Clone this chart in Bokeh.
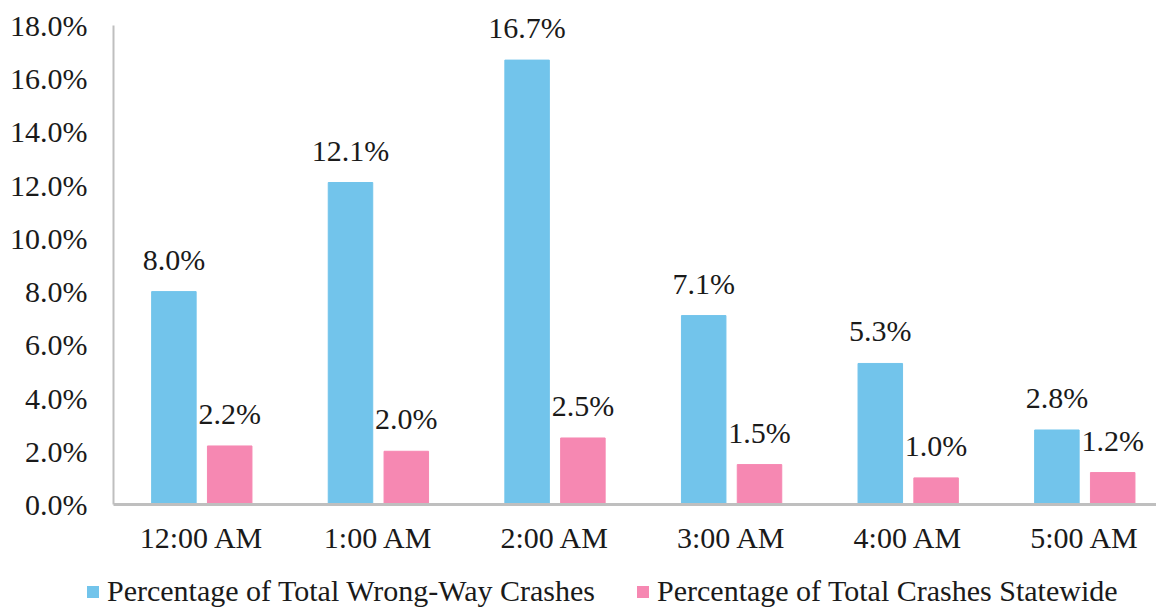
import numpy as np
from bokeh.plotting import figure
from bokeh.layouts import column
from bokeh.models import (Range1d, FixedTicker, PrintfTickFormatter, Legend, LegendItem,
                          ColumnDataSource, LabelSet)
from bokeh.core.properties import value
from bokeh.embed import file_html
from bokeh.resources import INLINE

categories = ["12:00 AM", "1:00 AM", "2:00 AM", "3:00 AM", "4:00 AM", "5:00 AM"]
wrong_way = [8.0, 12.1, 16.7, 7.1, 5.3, 2.8]
statewide = [2.2, 2.0, 2.5, 1.5, 1.0, 1.2]
series_names = ["Percentage of Total Wrong-Way Crashes", "Percentage of Total Crashes Statewide"]
y_ticks = [0, 2, 4, 6, 8, 10, 12, 14, 16, 18]

BLUE = "#72C4EB"
PINK = "#F688B2"
FONT = "Liberation Serif"
TXT = "#1a1a1a"
FS = "30px"

idx = np.arange(len(categories))
off = 0.158
w = 0.252

src_a = ColumnDataSource(dict(x=idx - off, top=wrong_way,
                              lab=["%.1f%%" % v for v in wrong_way]))
src_b = ColumnDataSource(dict(x=idx + off, top=statewide,
                              lab=["%.1f%%" % v for v in statewide]))

# frame 504 px tall, 18 units span 479 px -> top of frame at 18.94
p = figure(frame_width=1043, frame_height=504, output_backend="svg", toolbar_location=None,
           x_range=Range1d(-0.5, 5.406), y_range=Range1d(0, 18.94),
           min_border_left=113, min_border_right=0, min_border_top=0, min_border_bottom=0)
p.outline_line_color = None
p.xgrid.visible = False
p.ygrid.visible = False
p.background_fill_color = "white"
p.border_fill_color = "white"

ra = p.vbar(x="x", top="top", width=w, bottom=0, source=src_a, fill_color=BLUE, line_color=BLUE)
rb = p.vbar(x="x", top="top", width=w, bottom=0, source=src_b, fill_color=PINK, line_color=PINK)

for s in (src_a, src_b):
    ls = LabelSet(x="x", y="top", text="lab", source=s, y_offset=16, text_align="center",
                  text_baseline="bottom", text_font=value(FONT), text_font_size=value(FS),
                  text_color=TXT)
    p.add_layout(ls)

xa = p.xaxis[0]
xa.ticker = FixedTicker(ticks=list(idx))
xa.major_label_overrides = {int(i): c for i, c in zip(idx, categories)}
xa.axis_line_color = "#BFBFBF"
xa.axis_line_width = 3
xa.major_tick_line_color = None
xa.minor_tick_line_color = None
xa.major_label_text_font = FONT
xa.major_label_text_font_size = FS
xa.major_label_text_color = TXT
xa.major_label_standoff = 10

ya = p.yaxis[0]
ya.ticker = FixedTicker(ticks=y_ticks)
ya.bounds = (0, 18)
ya.formatter = PrintfTickFormatter(format="%.1f%%")
ya.axis_line_color = "#BFBFBF"
ya.axis_line_width = 2
ya.major_tick_line_color = None
ya.minor_tick_line_color = None
ya.major_label_text_font = FONT
ya.major_label_text_font_size = FS
ya.major_label_text_color = TXT
ya.major_label_standoff = 20

# legend strip below the chart
lg = figure(width=1156, height=52, output_backend="svg", toolbar_location=None,
            x_range=Range1d(0, 1), y_range=Range1d(0, 1), x_axis_type=None, y_axis_type=None,
            min_border_left=0, min_border_right=0, min_border_top=0, min_border_bottom=0)
lg.frame_align = False
lg.outline_line_color = None
lg.xgrid.visible = False
lg.ygrid.visible = False
la = lg.vbar(x="x", top=0, bottom=0, width=w, source=src_a, fill_color=BLUE, line_color=None)
lb = lg.vbar(x="x", top=0, bottom=0, width=w, source=src_b, fill_color=PINK, line_color=None)

legend = Legend(items=[LegendItem(label=series_names[0], renderers=[la]),
                       LegendItem(label=series_names[1], renderers=[lb])],
                location=(85, 0), orientation="horizontal",
                label_text_font=FONT, label_text_font_size=FS, label_text_color=TXT,
                glyph_width=15, glyph_height=15, label_standoff=7, spacing=40,
                padding=0, margin=0, border_line_color=None, background_fill_alpha=0)
lg.add_layout(legend, "center")

open("out.html", "w").write(file_html(column(p, lg, spacing=0), INLINE))
